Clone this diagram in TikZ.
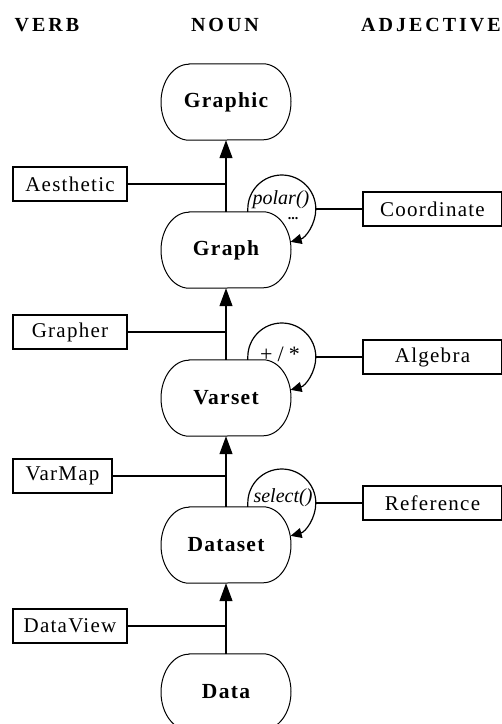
\documentclass[tikz,border=0pt]{standalone}
\usepackage{fontspec}
\setmainfont{Liberation Serif}
\newfontfamily\headfont[LetterSpace=15]{Liberation Serif}
\newfontfamily\nounfont[LetterSpace=6]{Liberation Serif}
\newfontfamily\boxfont[LetterSpace=6]{Liberation Serif}
\usetikzlibrary{arrows.meta}
\begin{document}
\begin{tikzpicture}[x=1pt,y=1pt,
  head/.style={inner sep=0pt, font=\headfont\bfseries\fontsize{20}{24}\selectfont},
  nounnode/.style={rectangle, minimum width=130pt, minimum height=76pt, inner sep=0pt,
    font=\nounfont\bfseries\fontsize{21.5}{25}\selectfont},
  nounline/.style={line width=1pt},
  termbox/.style={draw, line width=1.1pt, minimum height=34pt, inner sep=0pt,
    font=\boxfont\fontsize{21}{25}\selectfont},
  verbbox/.style={termbox, minimum width=114pt},
  adjbox/.style={termbox, minimum width=139pt},
  stem/.style={line width=1.2pt, -{Triangle[length=18pt,width=13pt]}},
  link/.style={line width=1.2pt},
  loopnode/.style={circle, minimum size=68pt, inner sep=0pt},
  loopline/.style={line width=1.2pt, -{Triangle[length=11pt,width=10pt]}},
  looptext/.style={inner sep=0pt, anchor=base, font=\fontsize{20}{24}\selectfont},
]
\useasboundingbox (0,0) rectangle (502,-724);

% column headings
\node[head] (hverb) at (47,-25) {VERB};
\node[head] (hnoun) at (225,-25) {NOUN};
\node[head] (hadj)  at (431,-25) {ADJECTIVE};

% noun chain
\node[nounnode] (graphic) at (226,-102) {Graphic};
\node[nounnode] (graph)   at (226,-250) {Graph};
\node[nounnode] (varset)  at (226,-398) {Varset};
\node[nounnode] (dataset) at (226,-545) {Dataset};
\node[nounnode] (data)    at (226,-692) {Data};

% noun outline: flat top and bottom, half-ellipse sides
\foreach \n in {graphic,graph,varset,dataset,data}{
  \draw[nounline] ([xshift=-37pt]\n.north) -- ([xshift=37pt]\n.north)
    arc[start angle=90, end angle=-90, x radius=28pt, y radius=38pt]
    -- ([xshift=-37pt]\n.south)
    arc[start angle=270, end angle=90, x radius=28pt, y radius=38pt] -- cycle;
}

% verbs
\node[verbbox] (aesthetic) at (70,-184) {Aesthetic};
\node[verbbox] (grapher)   at (70,-332) {Grapher};
\node[termbox, minimum width=99pt] (varmap) at (62.5,-476) {VarMap};
\node[verbbox] (dataview)  at (70,-626) {DataView};

% adjectives
\node[adjbox] (coordinate) at (432.5,-209) {Coordinate};
\node[adjbox] (algebra)    at (432.5,-357) {Algebra};
\node[adjbox] (reference)  at (432.5,-503) {Reference};

% stems between nouns
\draw[stem] (graph.north)   -- (graphic.south);
\draw[stem] (varset.north)  -- (graph.south);
\draw[stem] (dataset.north) -- (varset.south);
\draw[stem] (data.north)    -- (dataset.south);

% verbs attached to the stems
\draw[link] (aesthetic.east) -- (aesthetic.east -| graph.north);
\draw[link] (grapher.east)   -- (grapher.east -| varset.north);
\draw[link] (varmap.east)    -- (varmap.east -| dataset.north);
\draw[link] (dataview.east)  -- (dataview.east -| data.north);

% self loops
\node[loopnode] (gloop) at (282,-209) {};
\node[loopnode] (vloop) at (282,-357) {};
\node[loopnode] (dloop) at (282,-503) {};

\draw[loopline] (gloop.west |- graph.north) -- (gloop.west)
  arc[start angle=180, end angle=-75, radius=34pt];
\draw[loopline] (vloop.west |- varset.north) -- (vloop.west)
  arc[start angle=180, end angle=-75, radius=34pt];
\draw[loopline] (dloop.west |- dataset.north) -- (dloop.west)
  arc[start angle=180, end angle=-75, radius=34pt];

\node[looptext, font=\itshape\fontsize{20}{24}\selectfont] (polar) at (281,-204) {polar()};
\node[inner sep=0pt, anchor=base, font=\bfseries\fontsize{14}{16}\selectfont] (dots) at (293,-219) {...};
\node[looptext, font=\fontsize{22}{26}\selectfont] (ops) at (280,-361) {+\hspace{5pt}/\hspace{5pt}*};
\node[looptext, font=\itshape\fontsize{20}{24}\selectfont] (select) at (283,-502) {select()};

% adjectives attached to the loops
\draw[link] (coordinate.west) -- (gloop.east);
\draw[link] (algebra.west)    -- (vloop.east);
\draw[link] (reference.west)  -- (dloop.east);
\end{tikzpicture}
\end{document}
